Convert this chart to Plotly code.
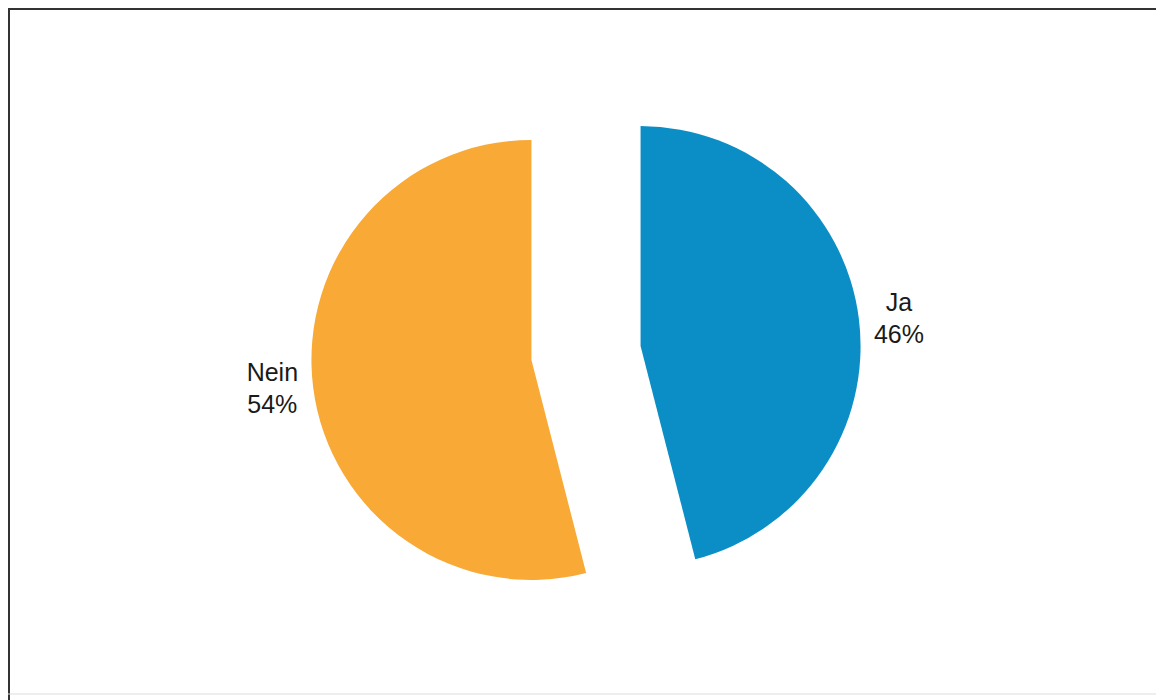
import plotly.graph_objects as go

labels = ["Ja", "Nein"]
values = [46, 54]
colors = ["#0b8ec6", "#f9a935"]

OFF = 8          # page body margin in px
W, H = 1164 - OFF, 700 - OFF
CX, CY, HALF = 586, 353, 275  # pie box centre and half-size in screen px

def fx(px):
    return (px - OFF) / W

def fy(py):
    return 1 - (py - OFF) / H

fig = go.Figure(go.Pie(
    labels=labels,
    values=values,
    sort=False,
    direction="clockwise",
    rotation=0,
    pull=[0.25, 0.25],
    domain=dict(x=[fx(CX - HALF), fx(CX + HALF)], y=[fy(CY + HALF), fy(CY - HALF)]),
    marker=dict(colors=colors, line=dict(width=0)),
    texttemplate="%{label}<br>%{percent:.0%}",
    textposition="outside",
    textfont=dict(family="Liberation Sans, Arial, sans-serif", size=25, color="#1a1a1a"),
    showlegend=False,
    hoverinfo="label+percent",
))

shapes = [
    dict(type="line", xref="paper", yref="paper", x0=fx(9), x1=fx(9), y0=fy(9), y1=fy(700),
         line=dict(color="#333333", width=2)),
    dict(type="line", xref="paper", yref="paper", x0=fx(8), x1=fx(1164), y0=fy(9), y1=fy(9),
         line=dict(color="#333333", width=2)),
    dict(type="line", xref="paper", yref="paper", x0=fx(8), x1=fx(1162), y0=fy(694), y1=fy(694),
         line=dict(color="#dddddd", width=1)),
]

fig.update_layout(
    width=W, height=H,
    margin=dict(l=0, r=0, t=0, b=0, autoexpand=False),
    paper_bgcolor="white",
    plot_bgcolor="white",
    shapes=shapes,
)

fig.write_html("out.html")
